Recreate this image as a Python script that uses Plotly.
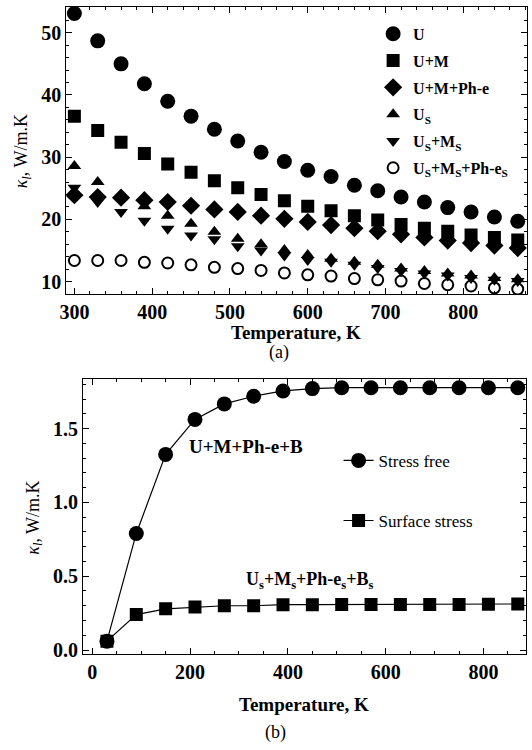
import plotly.graph_objects as go

# ---------------- data: panel (a) ----------------
T_a = [300, 330, 360, 390, 420, 450, 480, 510, 540, 570,
       600, 630, 660, 690, 720, 750, 780, 810, 840, 870]
k_U = [53.1, 48.7, 45.0, 41.8, 39.0, 36.6, 34.5, 32.6, 30.8, 29.3,
       27.9, 26.9, 25.5, 24.6, 23.6, 22.8, 21.9, 21.2, 20.4, 19.7]
k_UM = [36.6, 34.3, 32.4, 30.6, 28.9, 27.6, 26.2, 25.1, 24.0, 23.0,
        22.1, 21.4, 20.6, 19.9, 19.2, 18.6, 18.1, 17.5, 17.1, 16.7]
k_UMPh = [23.9, 23.6, 23.5, 23.1, 22.8, 22.2, 21.6, 21.2, 20.6, 20.1,
          19.6, 19.1, 18.6, 18.1, 17.6, 17.1, 16.6, 16.2, 15.8, 15.4]
k_Us = [28.6, 26.0, 23.8, 22.1, 20.6, 19.3, 18.0, 16.9, 16.0, 15.1,
        14.3, 13.7, 13.2, 12.7, 12.1, 11.7, 11.3, 11.0, 10.6, 10.4]
k_UsMs = [25.1, 22.8, 21.2, 19.8, 18.5, 17.4, 16.8, 15.7, 15.0, 14.2,
          13.5, 13.2, 12.7, 12.2, 11.7, 11.3, 11.0, 10.6, 10.3, 10.1]
k_UsMsPh = [13.4, 13.4, 13.4, 13.1, 13.0, 12.7, 12.3, 12.1, 11.8, 11.4,
            11.1, 10.9, 10.5, 10.3, 10.1, 9.7, 9.5, 9.3, 9.0, 8.8]
names_a = ["U", "U+M", "U+M+Ph-e", "U<sub>S</sub>", "U<sub>S</sub>+M<sub>S</sub>",
           "U<sub>S</sub>+M<sub>S</sub>+Ph-e<sub>S</sub>"]
ticks_a_y = [10, 20, 30, 40, 50]
ticks_a_x = [300, 400, 500, 600, 700, 800]

# ---------------- data: panel (b) ----------------
T_b = [30, 90, 150, 210, 270, 330, 390, 450, 510, 570, 630, 690, 750, 810, 870]
k_free = [0.06, 0.79, 1.326, 1.563, 1.668, 1.72, 1.756, 1.772, 1.778, 1.778,
          1.778, 1.778, 1.778, 1.778, 1.778]
k_surf = [0.06, 0.24, 0.279, 0.292, 0.30, 0.30, 0.307, 0.307, 0.308, 0.308,
          0.308, 0.308, 0.309, 0.31, 0.312]
names_b = ["Stress free", "Surface stress"]
ticks_b_y = [0.0, 0.5, 1.0, 1.5]
ticks_b_x = [0, 200, 400, 600, 800]

SERIF = "Liberation Serif"
W, H = 532, 750

def px_x(p):
    return p / W

def px_y(p):
    return (H - p) / H

fig = go.Figure()

series_a = [
    (k_U, "circle", 15),
    (k_UM, "square", 13),
    (k_UMPh, "diamond", 14),
    (k_Us, "triangle-up", 12),
    (k_UsMs, "triangle-down", 12),
    (k_UsMsPh, "circle-open", 11),
]
for i, (vals, sym, sz) in enumerate(series_a):
    fig.add_trace(go.Scatter(
        x=T_a, y=vals, mode="markers", name=names_a[i],
        marker=dict(symbol=sym, size=sz, color="black",
                    line=dict(color="black", width=2 if "open" in sym else 0)),
        xaxis="x", yaxis="y", legend="legend", legendgroup=f"a{i}",
    ))

for i, (vals, sym, sz) in enumerate([(k_free, "circle", 15), (k_surf, "square", 13)]):
    fig.add_trace(go.Scatter(
        x=T_b, y=vals, mode="lines+markers", name=names_b[i],
        line=dict(color="black", width=1.2),
        marker=dict(symbol=sym, size=sz, color="black"),
        xaxis="x2", yaxis="y2", legend="legend2", legendgroup=f"b{i}",
    ))

tickfont = dict(family=SERIF, size=20, color="black", weight="bold")
axis_common = dict(
    showgrid=False, zeroline=False, showline=True, linecolor="black", linewidth=1,
    mirror="ticks", ticks="inside", ticklen=6, tickwidth=1, tickcolor="black",
    tickfont=tickfont,
)

fig.update_layout(
    width=W, height=H, margin=dict(l=0, r=0, t=0, b=0),
    paper_bgcolor="white", plot_bgcolor="white",
    xaxis=dict(domain=[px_x(60), px_x(527)], range=[289.5, 882], anchor="y",
               tickvals=ticks_a_x,
               minor=dict(dtick=20, ticks="inside", ticklen=3, tickcolor="black", showgrid=False),
               **axis_common),
    yaxis=dict(domain=[px_y(297), px_y(7)], range=[7.98, 54.15], anchor="x",
               tickvals=ticks_a_y,
               minor=dict(dtick=2, ticks="inside", ticklen=3, tickcolor="black", showgrid=False),
               **axis_common),
    xaxis2=dict(domain=[px_x(77), px_x(526)], range=[-19, 887], anchor="y2",
                tickvals=ticks_b_x,
                minor=dict(dtick=50, ticks="inside", ticklen=3, tickcolor="black", showgrid=False),
                **axis_common),
    yaxis2=dict(domain=[px_y(660), px_y(383)], range=[-0.026, 1.834], anchor="x2",
                tickvals=ticks_b_y, tickformat=".1f",
                minor=dict(dtick=0.1, ticks="inside", ticklen=3, tickcolor="black", showgrid=False),
                **axis_common),
    legend=dict(x=px_x(371), y=px_y(17), xanchor="left", yanchor="top",
                bgcolor="rgba(0,0,0,0)", tracegroupgap=3,
                font=dict(family=SERIF, size=16, color="black", weight="bold")),
    legend2=dict(x=px_x(336), y=px_y(447), xanchor="left", yanchor="top",
                 bgcolor="rgba(0,0,0,0)", tracegroupgap=35,
                 font=dict(family=SERIF, size=17, color="black")),
    showlegend=True,
)

ann_font = dict(family=SERIF, size=18, color="black")
title_font_bold = dict(family=SERIF, size=19, color="black", weight="bold")
annotations = [
    dict(text="Temperature, K", x=px_x(293), y=px_y(336), xref="paper", yref="paper",
         xanchor="center", yanchor="middle", showarrow=False, font=title_font_bold),
    dict(text="(a)", x=px_x(276), y=px_y(356), xref="paper", yref="paper",
         xanchor="center", yanchor="middle", showarrow=False, font=ann_font),
    dict(text="Temperature, K", x=px_x(301), y=px_y(711), xref="paper", yref="paper",
         xanchor="center", yanchor="middle", showarrow=False, font=title_font_bold),
    dict(text="(b)", x=px_x(272), y=px_y(739), xref="paper", yref="paper",
         xanchor="center", yanchor="middle", showarrow=False, font=ann_font),
    dict(text="<i>κ</i><sub><i>l</i></sub>, W/m.K", x=px_x(16), y=px_y(153),
         xref="paper", yref="paper", xanchor="center", yanchor="middle",
         showarrow=False, textangle=-90, font=ann_font),
    dict(text="<i>κ</i><sub><i>l</i></sub>, W/m.K", x=px_x(27), y=px_y(523),
         xref="paper", yref="paper", xanchor="center", yanchor="middle",
         showarrow=False, textangle=-90, font=ann_font),
    dict(text="U+M+Ph-e+B", x=315, y=1.38, xref="x2", yref="y2", showarrow=False,
         xanchor="center", yanchor="middle", font=title_font_bold),
    dict(text="U<sub>s</sub>+M<sub>s</sub>+Ph-e<sub>s</sub>+B<sub>s</sub>", x=445, y=0.47,
         xref="x2", yref="y2", showarrow=False, xanchor="center", yanchor="middle",
         font=dict(family=SERIF, size=18, color="black", weight="bold")),
]
fig.update_layout(annotations=annotations)

fig.write_html("out.html")
